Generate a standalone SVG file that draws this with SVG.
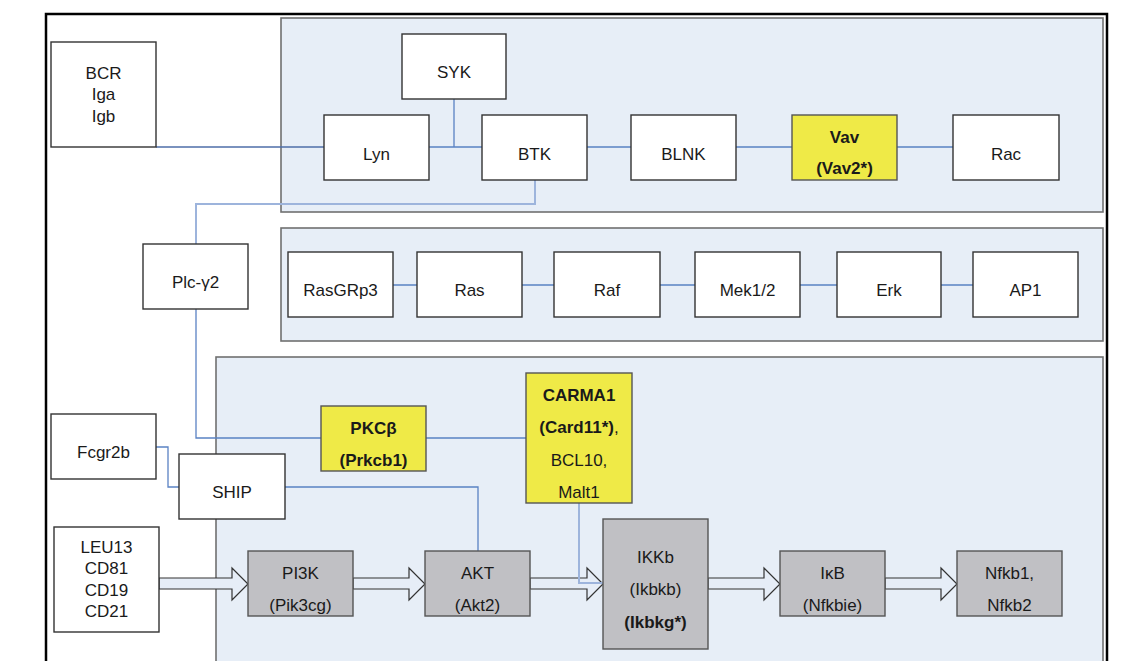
<svg xmlns="http://www.w3.org/2000/svg" width="1135" height="661" viewBox="0 0 1135 661">
<style>
text{font-family:"Liberation Sans",Arial,sans-serif;font-size:17px;fill:#1a1a1a;text-anchor:middle}
.b{font-weight:bold}
.panel{fill:#e7eef7;stroke:#707070;stroke-width:1.6}
.w{fill:#ffffff;stroke:#333;stroke-width:1.4}
.y{fill:#efea47;stroke:#555;stroke-width:1.4}
.g{fill:#c0c0c4;stroke:#555;stroke-width:1.4}
.c{fill:none;stroke:#5a82c4;stroke-width:1.3}
.cd{fill:none;stroke:#4e6ea8;stroke-width:1.3}
.cl{fill:none;stroke:#9db4dc;stroke-width:2}
.arr{fill:#e6edf7;stroke:#333;stroke-width:1.2}
</style>
<rect width="1135" height="661" fill="#ffffff"/>
<path d="M46,670 V14 H1107 V670" fill="none" stroke="#000" stroke-width="2.5"/>
<g id="panels">
<rect class="panel" x="281" y="18" width="822" height="194"/>
<rect class="panel" x="281" y="228" width="822" height="113"/>
<rect class="panel" x="216" y="357" width="887" height="320"/>
</g>
<g id="arrows">
<polygon class="arr" points="159,578 232,578 232,568 248,584 232,600 232,589 159,589"/>
<polygon class="arr" points="353,578 409,578 409,568 425,584 409,600 409,589 353,589"/>
<polygon class="arr" points="530,578 587,578 587,568 603,584 587,600 587,589 530,589"/>
<polygon class="arr" points="708,578 764,578 764,568 780,584 764,600 764,589 708,589"/>
<polygon class="arr" points="885,578 941,578 941,568 957,584 941,600 941,589 885,589"/>
</g>
<g id="connectors">
<path class="cd" d="M156,147 H324"/>
<path class="c" d="M429,147 H482 M454,99 V147"/>
<path class="c" d="M587,147 H631 M736,147 H792 M897,147 H953"/>
<path class="cl" d="M535,180 V204 H196 V244"/>
<path class="c" d="M393,285 H417 M522,285 H554 M660,285 H695 M800,285 H837 M941,285 H973"/>
<path class="c" d="M196,309 V438 H321 M426,438 H526"/>
<path class="c" d="M156,447 H168 V487 H179"/>
<path class="c" d="M285,487 H478 V551"/>
<path class="cl" d="M579,503 V583 H603" stroke-width="1.5"/>
</g>
<g id="BCR"><rect class="w" x="51" y="42" width="105" height="105"/><text x="103.5" y="79">BCR</text><text x="103.5" y="100">Iga</text><text x="103.5" y="122">Igb</text></g>
<g id="SYK"><rect class="w" x="402" y="34" width="104" height="65"/><text x="454" y="78">SYK</text></g>
<g id="Lyn"><rect class="w" x="324" y="115" width="105" height="65"/><text x="376.5" y="160">Lyn</text></g>
<g id="BTK"><rect class="w" x="482" y="115" width="105" height="65"/><text x="534.5" y="160">BTK</text></g>
<g id="BLNK"><rect class="w" x="631" y="115" width="105" height="65"/><text x="683.5" y="160">BLNK</text></g>
<g id="Vav"><rect class="y" x="792" y="115" width="105" height="65"/><text class="b" x="844.5" y="143">Vav</text><text class="b" x="844.5" y="174">(Vav2*)</text></g>
<g id="Rac"><rect class="w" x="953" y="115" width="106" height="65"/><text x="1006" y="160">Rac</text></g>
<g id="Plc"><rect class="w" x="143" y="244" width="105" height="65"/><text x="195.5" y="288">Plc-γ2</text></g>
<g id="RasGRp3"><rect class="w" x="288" y="252" width="105" height="65"/><text x="340.5" y="296">RasGRp3</text></g>
<g id="Ras"><rect class="w" x="417" y="252" width="105" height="65"/><text x="469.5" y="296">Ras</text></g>
<g id="Raf"><rect class="w" x="554" y="252" width="106" height="65"/><text x="607" y="296">Raf</text></g>
<g id="Mek"><rect class="w" x="695" y="252" width="105" height="65"/><text x="747.5" y="296">Mek1/2</text></g>
<g id="Erk"><rect class="w" x="837" y="252" width="104" height="65"/><text x="889" y="296">Erk</text></g>
<g id="AP1"><rect class="w" x="973" y="252" width="105" height="65"/><text x="1025.5" y="296">AP1</text></g>
<g id="PKC"><rect class="y" x="321" y="406" width="105" height="65"/><text class="b" x="373.5" y="434">PKCβ</text><text class="b" x="373.5" y="466">(Prkcb1)</text></g>
<g id="CARMA1"><rect class="y" x="526" y="373" width="106" height="130"/><text class="b" x="579" y="401">CARMA1</text><text x="579" y="433"><tspan class="b">(Card11*)</tspan>,</text><text x="579" y="466">BCL10,</text><text x="579" y="498">Malt1</text></g>
<g id="Fcgr2b"><rect class="w" x="51" y="414" width="105" height="65"/><text x="103.5" y="458">Fcgr2b</text></g>
<g id="SHIP"><rect class="w" x="179" y="454" width="106" height="65"/><text x="232" y="498">SHIP</text></g>
<g id="LEU13"><rect class="w" x="54" y="527" width="105" height="105"/><text x="106.5" y="553">LEU13</text><text x="106.5" y="574">CD81</text><text x="106.5" y="596">CD19</text><text x="106.5" y="617">CD21</text></g>
<g id="PI3K"><rect class="g" x="248" y="551" width="105" height="65"/><text x="300.5" y="579">PI3K</text><text x="300.5" y="611">(Pik3cg)</text></g>
<g id="AKT"><rect class="g" x="425" y="551" width="105" height="65"/><text x="477.5" y="579">AKT</text><text x="477.5" y="611">(Akt2)</text></g>
<g id="IKKb"><rect class="g" x="603" y="519" width="105" height="130"/><text x="655.5" y="563">IKKb</text><text x="655.5" y="595">(Ikbkb)</text><text class="b" x="655.5" y="628">(Ikbkg*)</text></g>
<g id="IkB"><rect class="g" x="780" y="551" width="105" height="65"/><text x="832.5" y="579">IκB</text><text x="832.5" y="611">(Nfkbie)</text></g>
<g id="Nfkb"><rect class="g" x="957" y="551" width="105" height="65"/><text x="1009.5" y="579">Nfkb1,</text><text x="1009.5" y="611">Nfkb2</text></g>
</svg>
